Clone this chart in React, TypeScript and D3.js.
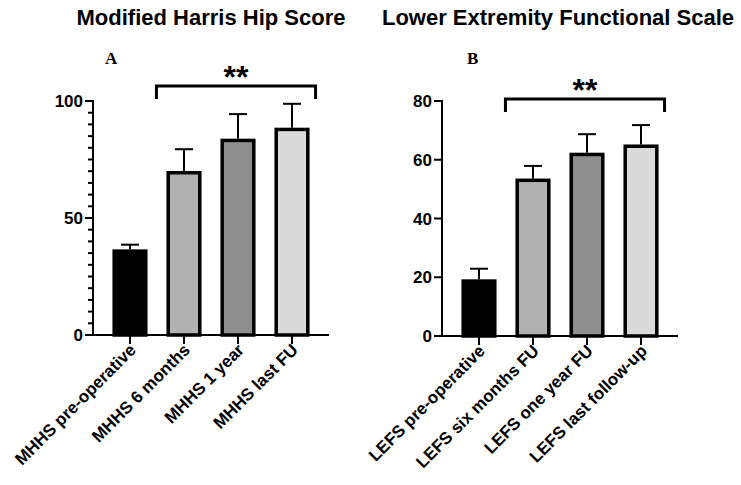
import React from "react";
import * as d3 from "d3";

const mhhsCategories = ["MHHS pre-operative", "MHHS 6 months", "MHHS 1 year", "MHHS last FU"];
const mhhsMeans = [36.6, 70.1, 83.9, 88.6];
const mhhsErr = [2.0, 9.3, 10.5, 10.2];
const mhhsMajorTicks = [0, 50, 100];
const mhhsMinorTicks = d3.range(0, 101, 5);

const lefsCategories = ["LEFS pre-operative", "LEFS six months FU", "LEFS one year FU", "LEFS last follow-up"];
const lefsMeans = [19.3, 53.6, 62.4, 65.2];
const lefsErr = [3.6, 4.3, 6.3, 6.6];
const lefsMajorTicks = [0, 20, 40, 60, 80];
const lefsMinorTicks: number[] = [];

const barColors = ["#000000", "#b0b0b0", "#8e8e8e", "#dadada"];

const FONT = "'Liberation Sans', Arial, Helvetica, sans-serif";

type PanelProps = {
  title: string;
  titleX: number;
  letter: string;
  letterX: number;
  categories: string[];
  means: number[];
  errs: number[];
  major: number[];
  minor: number[];
  yMax: number;
  x0: number;
  x1: number;
  yTop: number;
  yBottom: number;
  bracketY: number;
};

function Panel(p: PanelProps) {
  const x = d3
    .scaleBand<string>()
    .domain(p.categories)
    .range([p.x0, p.x1])
    .paddingInner(0.35)
    .paddingOuter(0.36);
  const y = d3.scaleLinear().domain([0, p.yMax]).range([p.yBottom, p.yTop]);
  const bw = x.bandwidth();
  const sw = 3.5;
  const cap = 18;
  const bx0 = (x(p.categories[1]) as number) - 10;
  const bx1 = (x(p.categories[3]) as number) + bw + 6;
  return (
    <g fontFamily={FONT}>
      <text x={p.titleX} y={25} textAnchor="middle" fontSize={22} fontWeight="bold">
        {p.title}
      </text>
      <text
        x={p.letterX}
        y={64}
        fontFamily="'Liberation Serif', 'Times New Roman', serif"
        fontWeight="bold"
        fontSize={17}
      >
        {p.letter}
      </text>
      {/* significance bracket */}
      <path
        d={`M${bx0},${p.bracketY + 13}V${p.bracketY}H${bx1}V${p.bracketY + 13}`}
        fill="none"
        stroke="#000"
        strokeWidth={3}
      />
      <text
        x={(bx0 + bx1) / 2}
        y={p.bracketY + 2}
        textAnchor="middle"
        fontSize={32}
        fontWeight="bold"
      >
        **
      </text>
      {/* bars */}
      {p.categories.map((c, i) => {
        const cx = (x(c) as number) + bw / 2;
        return (
          <g key={c}>
            <line
              x1={cx}
              x2={cx}
              y1={y(p.means[i])}
              y2={y(p.means[i] + p.errs[i])}
              stroke="#000"
              strokeWidth={2}
            />
            <line
              x1={cx - cap / 2}
              x2={cx + cap / 2}
              y1={y(p.means[i] + p.errs[i])}
              y2={y(p.means[i] + p.errs[i])}
              stroke="#000"
              strokeWidth={2}
            />
            <rect
              x={(x(c) as number) + sw / 2}
              y={y(p.means[i]) + sw / 2}
              width={bw - sw}
              height={y(0) - y(p.means[i]) - sw / 2}
              fill={barColors[i]}
              stroke="#000"
              strokeWidth={sw}
            />
          </g>
        );
      })}
      {/* y axis */}
      <line x1={p.x0} x2={p.x0} y1={p.yTop - 1} y2={p.yBottom + 1} stroke="#000" strokeWidth={2} />
      {p.minor.map((t) => (
        <line key={"m" + t} x1={p.x0 - 5} x2={p.x0} y1={y(t)} y2={y(t)} stroke="#000" strokeWidth={2} />
      ))}
      {p.major.map((t) => (
        <g key={"M" + t}>
          <line x1={p.x0 - 8} x2={p.x0} y1={y(t)} y2={y(t)} stroke="#000" strokeWidth={2} />
          <text x={p.x0 - 10} y={y(t)} dy="0.36em" textAnchor="end" fontSize={17} fontWeight="bold">
            {t}
          </text>
        </g>
      ))}
      {/* x axis */}
      <line x1={p.x0 - 1} x2={p.x1} y1={p.yBottom} y2={p.yBottom} stroke="#000" strokeWidth={2} />
      {p.categories.map((c) => {
        const cx = (x(c) as number) + bw / 2;
        return (
          <g key={"x" + c}>
            <line x1={cx} x2={cx} y1={p.yBottom} y2={p.yBottom + 9} stroke="#000" strokeWidth={2} />
            <text
              transform={`translate(${cx + 7},${p.yBottom + 16}) rotate(-45)`}
              textAnchor="end"
              fontSize={17}
              fontWeight="bold"
            >
              {c}
            </text>
          </g>
        );
      })}
    </g>
  );
}

export default function App() {
  return (
    <svg
      width={741}
      height={485}
      style={{ position: "absolute", left: 0, top: 0, background: "#fff" }}
    >
      <rect width={741} height={485} fill="#fff" />
      <Panel
        title="Modified Harris Hip Score"
        titleX={211}
        letter="A"
        letterX={105}
        categories={mhhsCategories}
        means={mhhsMeans}
        errs={mhhsErr}
        major={mhhsMajorTicks}
        minor={mhhsMinorTicks}
        yMax={100}
        x0={93}
        x1={329}
        yTop={101}
        yBottom={335}
        bracketY={86}
      />
      <Panel
        title="Lower Extremity Functional Scale"
        titleX={558}
        letter="B"
        letterX={467}
        categories={lefsCategories}
        means={lefsMeans}
        errs={lefsErr}
        major={lefsMajorTicks}
        minor={lefsMinorTicks}
        yMax={80}
        x0={442}
        x1={678}
        yTop={101}
        yBottom={336}
        bracketY={99}
      />
    </svg>
  );
}
